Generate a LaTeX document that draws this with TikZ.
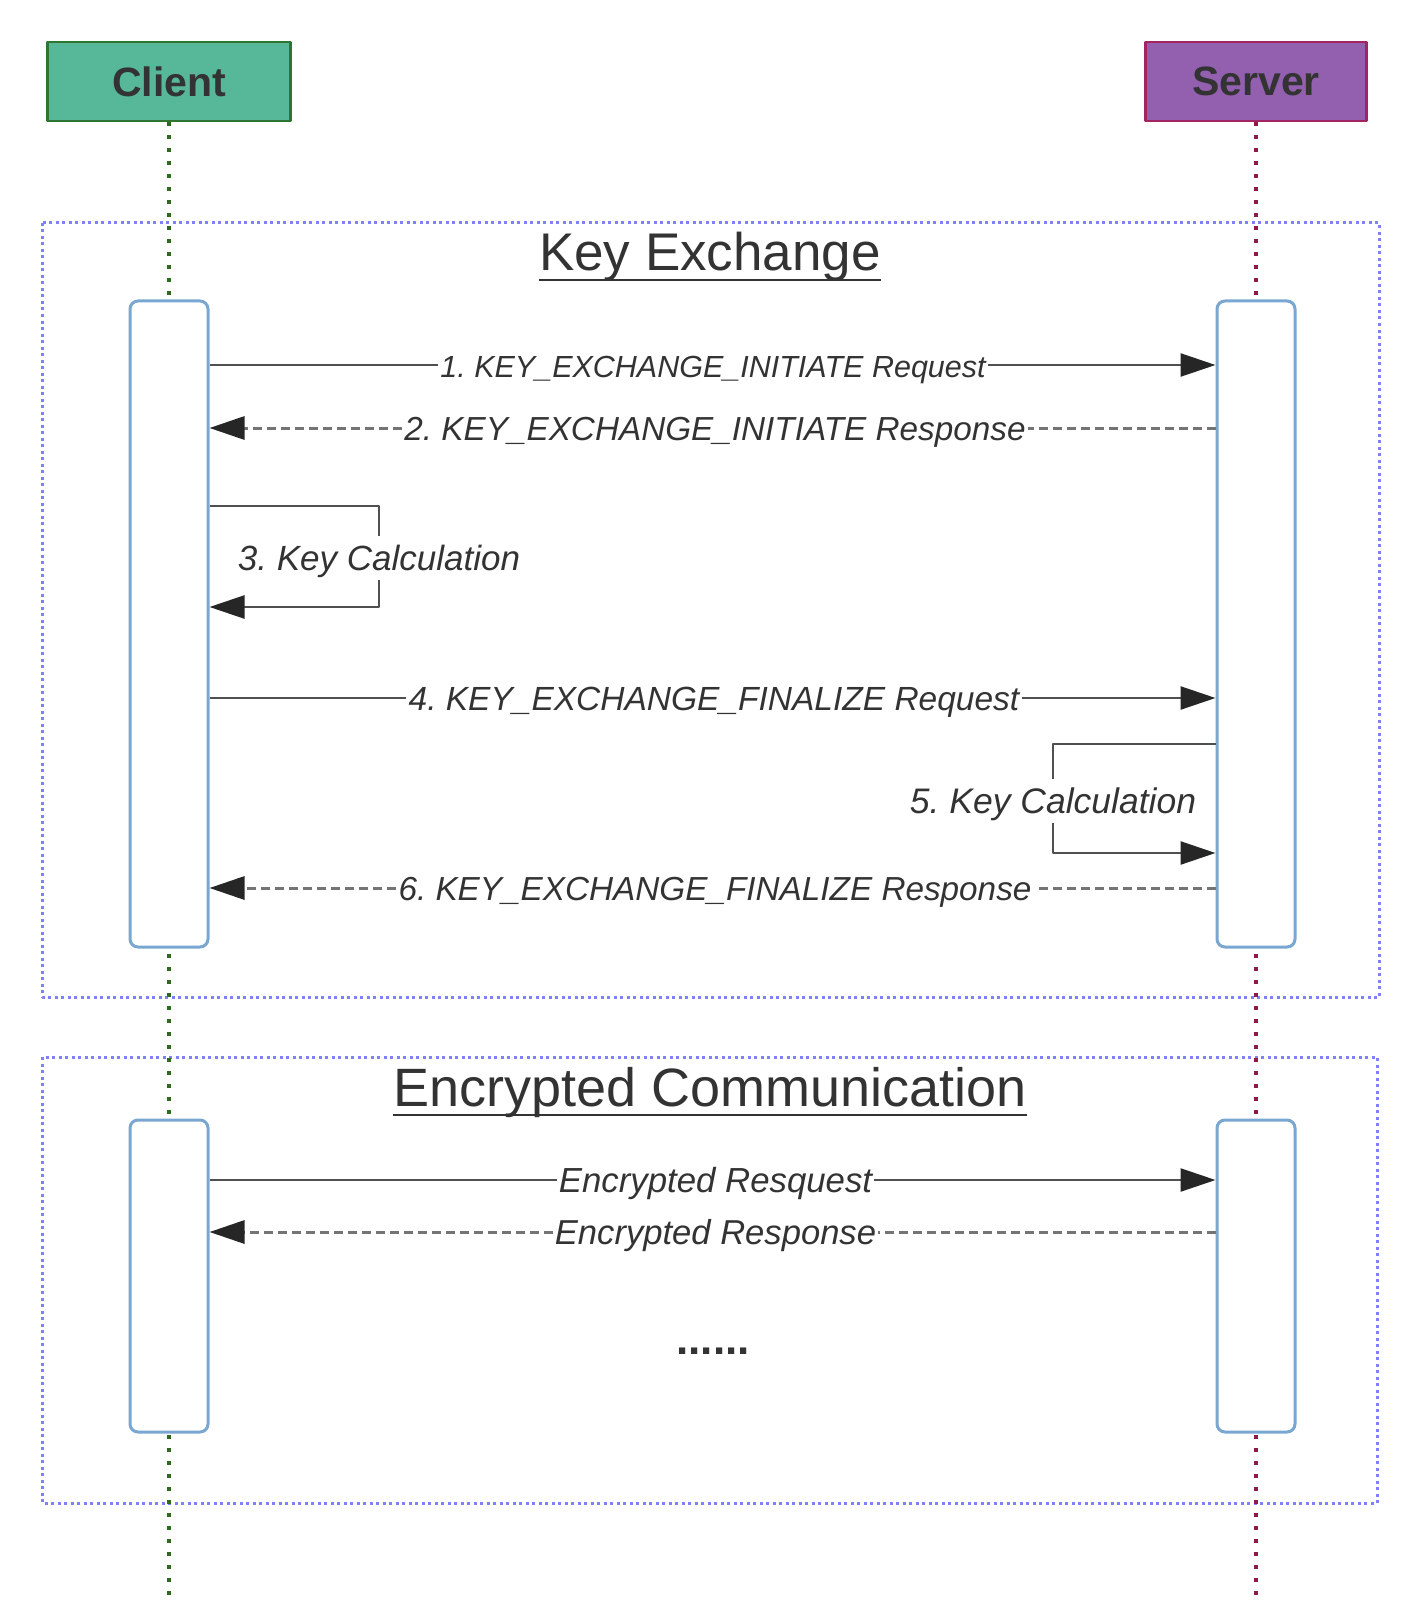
\documentclass[tikz,border=0pt]{standalone}
\usepackage{fontspec}
\setmainfont{Liberation Sans}
\usetikzlibrary{arrows.meta}
\usetikzlibrary{positioning}
\definecolor{clientfill}{HTML}{56B899}
\definecolor{clientline}{HTML}{2F7530}
\definecolor{serverfill}{HTML}{9360AF}
\definecolor{serverline}{HTML}{A12560}
\definecolor{clientdot}{HTML}{2D6A1E}
\definecolor{serverdot}{HTML}{8C1B4B}
\definecolor{framedot}{HTML}{8080F8}
\definecolor{actblue}{HTML}{7AA6D2}
\definecolor{textgrey}{HTML}{333333}
\definecolor{msggrey}{HTML}{505050}
\definecolor{respgrey}{HTML}{747474}
\definecolor{tipgrey}{HTML}{262626}
\newcommand\setfs[1]{\fontsize{#1}{#1}\selectfont}
\frenchspacing

\begin{document}
\begin{tikzpicture}[x=1pt,y=-1pt,line join=round,
  actor/.style={draw,line width=2.5pt,minimum height=79pt,inner sep=0pt,text=textgrey,font=\bfseries\setfs{41}},
  bar/.style={draw=actblue,line width=3pt,fill=white,rounded corners=8pt,minimum width=78pt,inner sep=0pt},
  life/.style={line width=4pt,dash pattern=on 4pt off 9pt},
  boxframe/.style={draw=framedot,line width=3pt,dash pattern=on 3pt off 3.5pt},
  ttl/.style={anchor=base,inner sep=0pt,text=textgrey},
  uline/.style={draw=textgrey,line width=2.5pt},
  lbl/.style={inner xsep=2pt,inner ysep=1pt,text height=24pt,text depth=0pt,text=textgrey},
  selfnote/.style={lbl,inner ysep=10pt},
  req/.style={draw=msggrey,line width=2.5pt},
  resp/.style={draw=respgrey,line width=3pt,dash pattern=on 9pt off 5pt},
  arr/.style={-{Triangle[length=35pt,width=23pt,fill=tipgrey,color=tipgrey]}}]
\useasboundingbox (0,0) rectangle (1408,1602);

% groups
\draw[boxframe] (42,223) rectangle (1379,997);
\draw[boxframe] (42,1057) rectangle (1377,1503);

% participants and lifelines
\node[actor,fill=clientfill,draw=clientline,minimum width=243pt] (client) at (169,81.5) {Client};
\node[actor,fill=serverfill,draw=serverline,minimum width=221pt] (server) at (1256,81.5) {Server};
\coordinate (cend) at (169,1602);
\coordinate (send) at (1256,1602);
\draw[life,draw=clientdot] (client.south) -- (cend);
\draw[life,draw=serverdot] (server.south) -- (send);

% activations
\node[bar,minimum height=646pt] (cbar1) at (169,624) {};
\node[bar,minimum height=646pt] (sbar1) at (1256,624) {};
\node[bar,minimum height=312pt] (cbar2) at (169,1276) {};
\node[bar,minimum height=312pt] (sbar2) at (1256,1276) {};

% group titles
\node[ttl,font=\setfs{53}] (kxtitle) at (710,271) {Key Exchange};
\draw[uline] ([yshift=-9pt]kxtitle.base west) -- ([yshift=-9pt]kxtitle.base east);
\node[ttl,font=\setfs{54}] (ectitle) at (710,1106) {Encrypted Communication};
\draw[uline] ([yshift=-9pt]ectitle.base west) -- ([yshift=-9pt]ectitle.base east);

% key exchange
\node[lbl,font=\itshape\setfs{30.5}] (m1) at (713,365) {1. KEY\_EXCHANGE\_INITIATE Request};
\draw[req] (cbar1.east |- m1) -- (m1.west);
\draw[req,arr] (m1.east) -- (sbar1.west |- m1);

\node[lbl,font=\itshape\setfs{33.3}] (m2) at (715,428) {2. KEY\_EXCHANGE\_INITIATE Response};
\draw[resp] (sbar1.west |- m2) -- (m2.east);
\draw[resp,arr] (m2.west) -- (cbar1.east |- m2);

\coordinate (r3a) at (0,506);
\coordinate (r3b) at (0,607);
\node[selfnote,font=\itshape\setfs{35}] (m3) at (379,558) {3. Key Calculation};
\draw[req] (cbar1.east |- r3a) -| (m3.north);
\draw[req,arr] (m3.south) |- (cbar1.east |- r3b);

\node[lbl,font=\itshape\setfs{33.5}] (m4) at (714,698) {4. KEY\_EXCHANGE\_FINALIZE Request};
\draw[req] (cbar1.east |- m4) -- (m4.west);
\draw[req,arr] (m4.east) -- (sbar1.west |- m4);

\coordinate (r5a) at (0,744);
\coordinate (r5b) at (0,853);
\node[selfnote,font=\itshape\setfs{35.5}] (m5) at (1053,801) {5. Key Calculation};
\draw[req] (sbar1.west |- r5a) -| (m5.north);
\draw[req,arr] (m5.south) |- (sbar1.west |- r5b);

\node[lbl,font=\itshape\setfs{33.3}] (m6) at (715,888) {6. KEY\_EXCHANGE\_FINALIZE Response};
\draw[resp] (sbar1.west |- m6) -- (m6.east);
\draw[resp,arr] (m6.west) -- (cbar1.east |- m6);

% encrypted communication
\node[lbl,font=\itshape\setfs{34.8}] (m7) at (715.5,1180) {Encrypted Resquest};
\draw[req] (cbar2.east |- m7) -- (m7.west);
\draw[req,arr] (m7.east) -- (sbar2.west |- m7);

\node[lbl,font=\itshape\setfs{34.6}] (m8) at (715.5,1232) {Encrypted Response};
\draw[resp] (sbar2.west |- m8) -- (m8.east);
\draw[resp,arr] (m8.west) -- (cbar2.east |- m8);

\node[anchor=base,inner sep=0pt,text=textgrey,font=\bfseries\setfs{44}] (more) at (713,1354) {......};
\end{tikzpicture}
\end{document}
